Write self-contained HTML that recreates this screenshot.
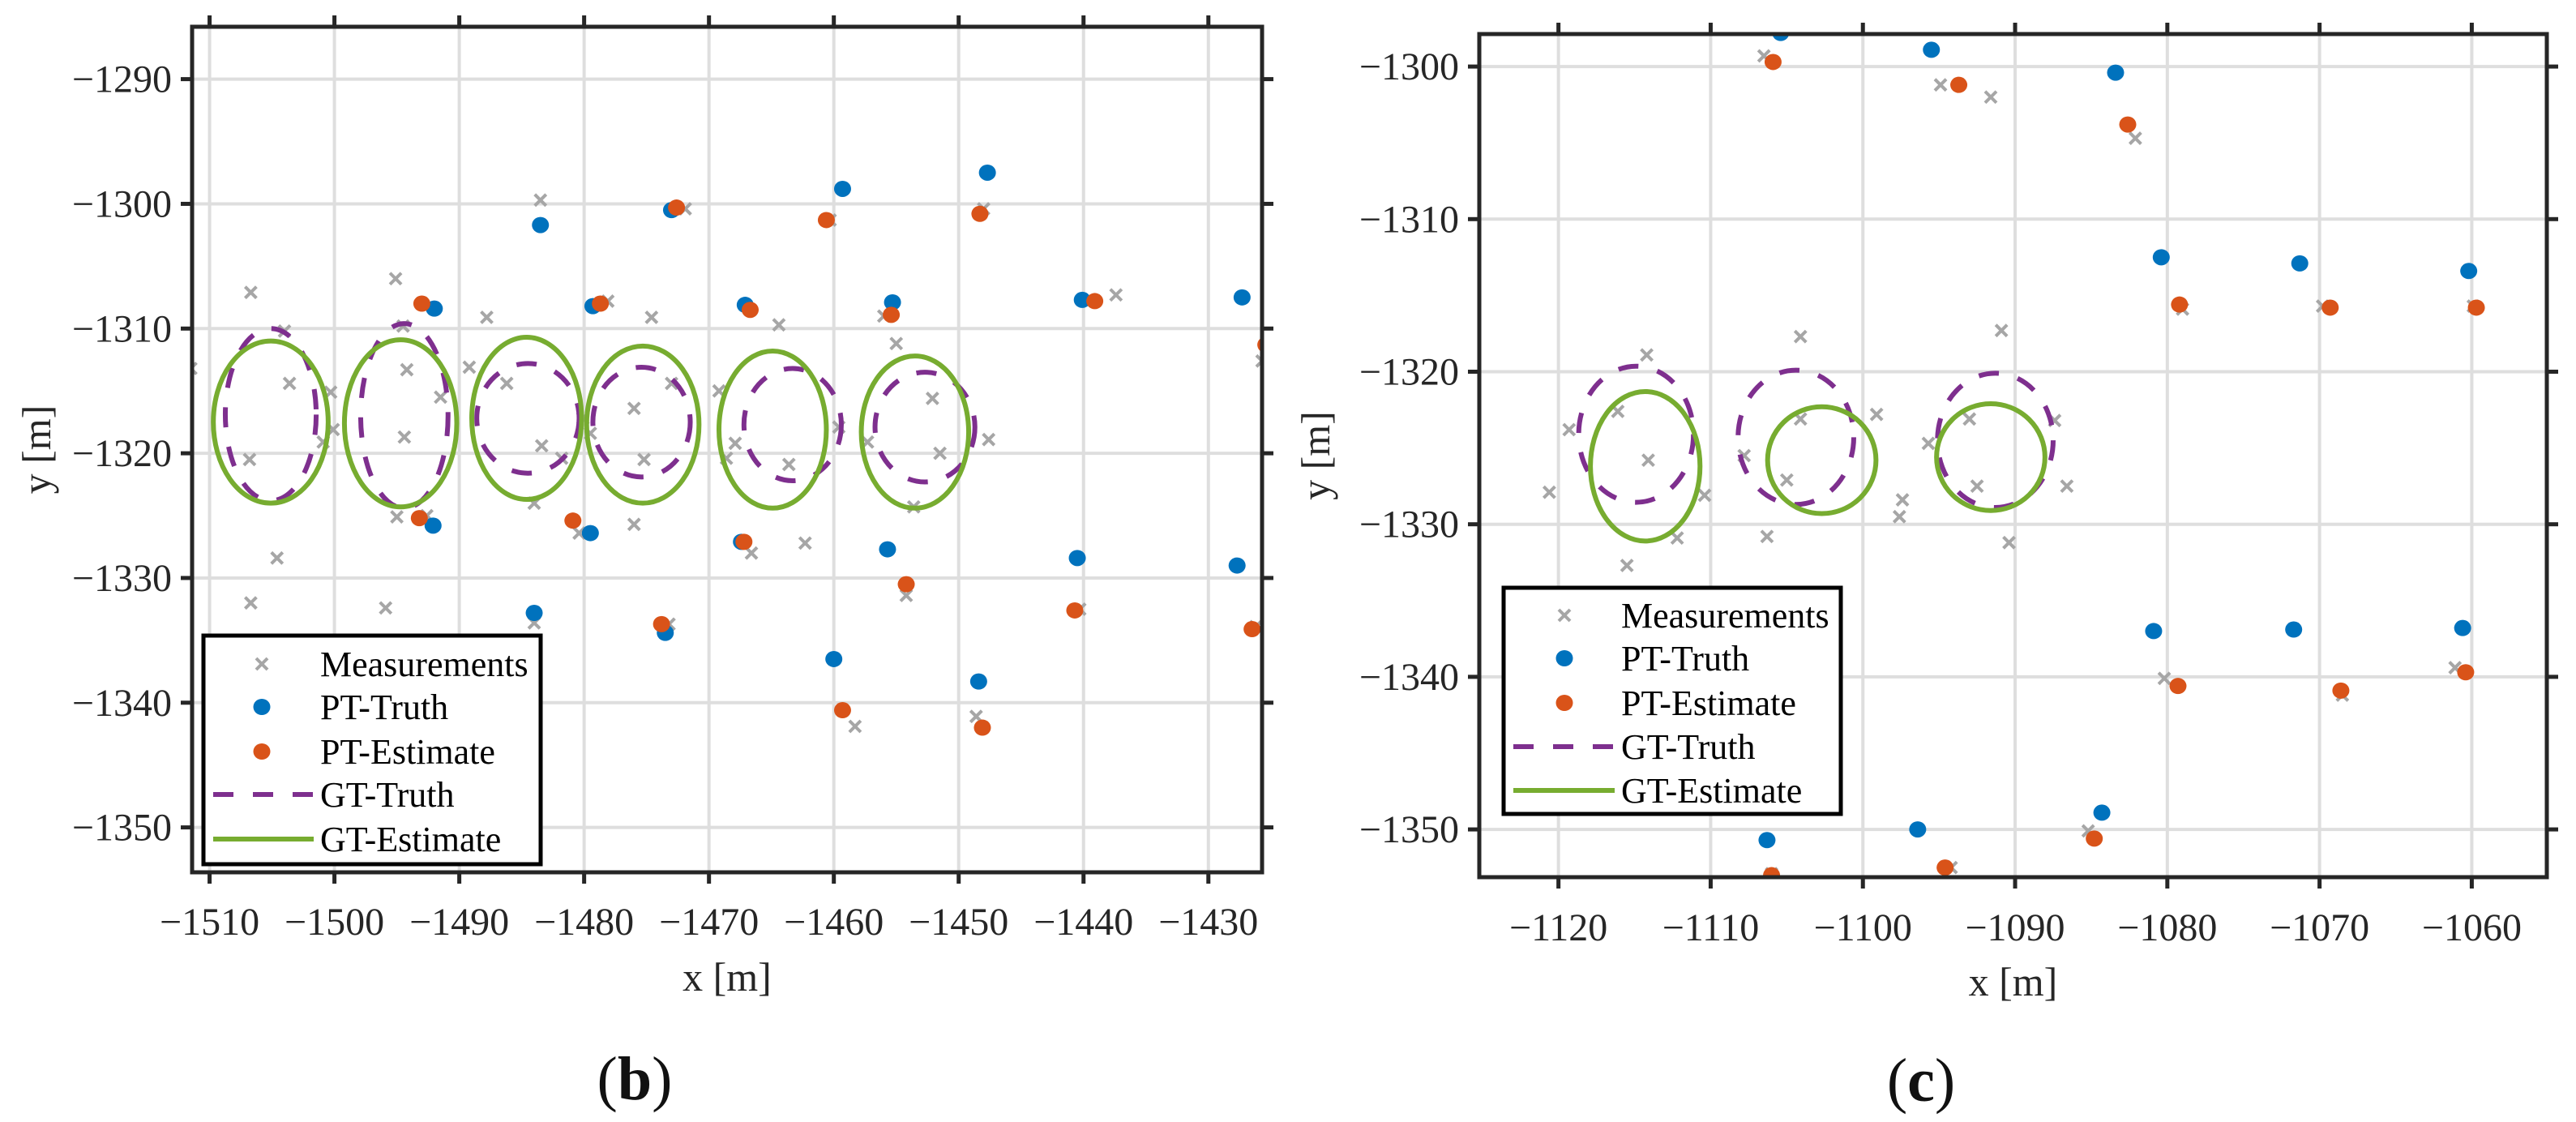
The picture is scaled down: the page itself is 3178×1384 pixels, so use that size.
<!DOCTYPE html>
<html><head><meta charset="utf-8">
<style>
html,body{margin:0;padding:0;background:#fff;}
svg{display:block;font-family:"Liberation Serif",serif;}
</style></head>
<body>
<svg id="fig" width="3178" height="1384" viewBox="0 0 3178 1384" xmlns="http://www.w3.org/2000/svg"></svg>
<script>
// ---------- Panel (b) data ----------
const bXTicks = [-1510,-1500,-1490,-1480,-1470,-1460,-1450,-1440,-1430];
const bYTicks = [-1290,-1300,-1310,-1320,-1330,-1340,-1350];
const bMeasX = [-1511.5,-1506.7,-1504.0,-1503.6,-1500.3,-1500.1,-1500.9,-1506.8,-1504.6,-1506.7,-1495.1,-1494.5,-1494.2,-1494.4,-1491.5,-1495.0,-1492.6,-1495.9,-1487.8,-1489.2,-1486.2,-1483.5,-1483.4,-1481.8,-1484.0,-1484.0,-1478.1,-1480.1,-1479.5,-1480.4,-1474.6,-1476.0,-1475.2,-1473.0,-1476.0,-1473.2,-1471.9,-1469.2,-1467.9,-1468.6,-1464.4,-1463.6,-1462.3,-1466.6,-1459.6,-1460.3,-1457.3,-1458.3,-1455.0,-1456.0,-1452.1,-1451.5,-1453.6,-1454.2,-1448.6,-1447.6,-1448.0,-1437.4,-1440.3,-1425.7,-1426.2];
const bMeasY = [-1313.2,-1307.1,-1310.2,-1314.4,-1315.1,-1318.1,-1319.1,-1320.5,-1328.4,-1332.0,-1306.0,-1309.8,-1313.3,-1318.7,-1315.5,-1325.1,-1325.0,-1332.4,-1309.1,-1313.1,-1314.4,-1299.7,-1319.4,-1320.4,-1324.0,-1333.6,-1307.8,-1317.2,-1318.4,-1326.4,-1309.1,-1316.4,-1320.5,-1314.4,-1325.7,-1333.7,-1300.4,-1315.0,-1319.2,-1320.4,-1309.7,-1320.9,-1327.2,-1328.0,-1317.9,-1301.3,-1319.1,-1341.9,-1311.2,-1309.0,-1315.6,-1320.0,-1324.3,-1331.4,-1341.1,-1318.9,-1300.4,-1307.3,-1332.5,-1312.6,-1333.9];
const bTruthX = [-1483.5,-1473.0,-1459.3,-1447.7,-1492.0,-1479.3,-1467.1,-1455.3,-1440.1,-1427.3,-1492.1,-1479.5,-1467.4,-1455.7,-1440.5,-1427.7,-1484.0,-1473.5,-1460.0,-1448.4];
const bTruthY = [-1301.7,-1300.5,-1298.8,-1297.5,-1308.4,-1308.2,-1308.1,-1307.9,-1307.7,-1307.5,-1325.8,-1326.4,-1327.1,-1327.7,-1328.4,-1329.0,-1332.8,-1334.4,-1336.5,-1338.3];
const bEstX = [-1493.0,-1478.7,-1466.7,-1455.4,-1439.1,-1425.4,-1472.6,-1460.6,-1448.3,-1493.2,-1480.9,-1467.2,-1454.2,-1440.7,-1426.5,-1473.8,-1459.3,-1448.1];
const bEstY = [-1308.0,-1308.0,-1308.5,-1308.9,-1307.8,-1311.3,-1300.3,-1301.3,-1300.8,-1325.2,-1325.4,-1327.1,-1330.5,-1332.6,-1334.1,-1333.7,-1340.6,-1342.0];
const bGtTruthCx = [-1505.1,-1494.4,-1484.5,-1475.4,-1463.3,-1452.7];
const bGtTruthCy = [-1316.9,-1317.0,-1317.2,-1317.5,-1317.7,-1317.9];
const bGtTruthRx = [3.64,3.5,4.1,3.9,3.9,4.0];
const bGtTruthRy = [6.9,7.4,4.4,4.4,4.5,4.4];
const bGtEstCx = [-1505.1,-1494.7,-1484.6,-1475.3,-1464.9,-1453.5];
const bGtEstCy = [-1317.5,-1317.6,-1317.2,-1317.7,-1318.1,-1318.3];
const bGtEstRx = [4.6,4.5,4.4,4.5,4.3,4.3];
const bGtEstRy = [6.5,6.7,6.5,6.3,6.3,6.1];

// ---------- Panel (c) data ----------
const cXTicks = [-1120,-1110,-1100,-1090,-1080,-1070,-1060];
const cYTicks = [-1300,-1310,-1320,-1330,-1340,-1350];
const cMeasX = [-1106.5,-1094.9,-1091.6,-1082.1,-1079.0,-1069.8,-1059.9,-1090.9,-1104.1,-1114.2,-1116.1,-1119.3,-1114.1,-1120.6,-1110.4,-1112.2,-1115.5,-1107.8,-1104.1,-1105.0,-1106.3,-1099.1,-1095.7,-1097.4,-1097.6,-1093.0,-1092.5,-1090.4,-1087.4,-1086.6,-1080.2,-1085.2,-1068.5,-1061.1,-1094.2,-1106.0];
const cMeasY = [-1299.3,-1301.2,-1302.0,-1304.7,-1315.9,-1315.7,-1315.7,-1317.3,-1317.7,-1318.9,-1322.6,-1323.8,-1325.8,-1327.9,-1328.1,-1330.9,-1332.7,-1325.5,-1323.1,-1327.1,-1330.8,-1322.8,-1324.7,-1328.4,-1329.5,-1323.1,-1327.5,-1331.2,-1323.2,-1327.5,-1340.1,-1350.1,-1341.2,-1339.4,-1352.5,-1352.9];
const cTruthX = [-1105.4,-1095.5,-1083.4,-1080.4,-1071.3,-1060.2,-1080.9,-1071.7,-1060.6,-1106.3,-1096.4,-1084.3];
const cTruthY = [-1297.8,-1298.9,-1300.4,-1312.5,-1312.9,-1313.4,-1337.0,-1336.9,-1336.8,-1350.7,-1350.0,-1348.9];
const cEstX = [-1105.9,-1093.7,-1082.6,-1079.2,-1069.3,-1059.7,-1079.3,-1068.6,-1060.4,-1106.0,-1094.6,-1084.8];
const cEstY = [-1299.7,-1301.2,-1303.8,-1315.6,-1315.8,-1315.8,-1340.6,-1340.9,-1339.7,-1353.0,-1352.5,-1350.6];
const cGtTruthCx = [-1114.9,-1104.4,-1091.3];
const cGtTruthCy = [-1324.1,-1324.3,-1324.5];
const cGtTruthRx = [3.77,3.8,3.8];
const cGtTruthRy = [4.46,4.4,4.4];
const cGtEstCx = [-1114.3,-1102.7,-1091.6];
const cGtEstCy = [-1326.2,-1325.8,-1325.6];
const cGtEstRx = [3.6,3.56,3.56];
const cGtEstRy = [4.9,3.5,3.5];
const legendLabels = ["Measurements","PT-Truth","PT-Estimate","GT-Truth","GT-Estimate"];

const NS = "http://www.w3.org/2000/svg";
const svg = document.getElementById("fig");
function mk(tag, attrs, parent){
  const e = document.createElementNS(NS, tag);
  for (const k in attrs) e.setAttribute(k, attrs[k]);
  (parent||svg).appendChild(e);
  return e;
}
const C = {blue:"#0072BD", orange:"#D95319", gray:"#a6a6a6", purple:"#7E2F8E", green:"#77AC30", axis:"#262626", grid:"#dedede"};

function panel(p){
  const g = mk("g", {});
  
  
  const sx = v => p.x0 + (v - p.xmin) / (p.xmax - p.xmin) * (p.x1 - p.x0);
  const sy = v => p.y1 - (v - p.ymin) / (p.ymax - p.ymin) * (p.y1 - p.y0);
  const kx = (p.x1 - p.x0) / (p.xmax - p.xmin), ky = (p.y1 - p.y0) / (p.ymax - p.ymin);
  const clipId = p.name + "-clip";
  const defs = mk("defs", {}, g);
  const cp = mk("clipPath", {id: clipId}, defs);
  mk("rect", {x:p.x0, y:p.y0, width:p.x1-p.x0, height:p.y1-p.y0}, cp);
  const grid = mk("g", {stroke:C.grid, "stroke-width":4}, g);
  
  
  p.xt.forEach(t => mk("line", {x1:sx(t), x2:sx(t), y1:p.y0, y2:p.y1}, grid));
  p.yt.forEach(t => mk("line", {y1:sy(t), y2:sy(t), x1:p.x0, x2:p.x1}, grid));
  const dg = mk("g", {"clip-path":"url(#"+clipId+")"}, g);
  const meas = mk("g", {stroke:C.gray, "stroke-width":4}, dg);
  
  
  p.mx.forEach((v,i) => {
    const X = sx(v), Y = sy(p.my[i]), s = 7;
    const pth = mk("path", {d:`M${X-s} ${Y-s}L${X+s} ${Y+s}M${X-s} ${Y+s}L${X+s} ${Y-s}`}, meas);
    
    
  });
  const tr = mk("g", {fill:C.blue}, dg);
  
  
  p.tx.forEach((v,i) => {
    const c = mk("ellipse", {cx:sx(v), cy:sy(p.ty[i]), rx:10.5, ry:10}, tr);
    
    
  });
  const es = mk("g", {fill:C.orange}, dg);
  
  
  p.ex.forEach((v,i) => {
    const c = mk("ellipse", {cx:sx(v), cy:sy(p.ey[i]), rx:10.5, ry:10}, es);
    
    
  });
  const gt = mk("g", {fill:"none", stroke:C.purple, "stroke-width":6, "stroke-dasharray":"25 24"}, dg);
  
  
  p.gtcx.forEach((v,i) => {
    const e = mk("ellipse", {cx:sx(v), cy:sy(p.gtcy[i]), rx:p.gtrx[i]*kx, ry:p.gtry[i]*ky}, gt);
    
    
  });
  const ge = mk("g", {fill:"none", stroke:C.green, "stroke-width":6}, dg);
  
  
  p.gecx.forEach((v,i) => {
    const e = mk("ellipse", {cx:sx(v), cy:sy(p.gecy[i]), rx:p.gerx[i]*kx, ry:p.gery[i]*ky}, ge);
    
    
  });
  const ax = mk("g", {stroke:C.axis, "stroke-width":5, fill:"none"}, g);
  
  
  mk("rect", {x:p.x0, y:p.y0, width:p.x1-p.x0, height:p.y1-p.y0}, ax);
  const T = 14;
  p.xt.forEach(t => {
    mk("line", {x1:sx(t), x2:sx(t), y1:p.y1, y2:p.y1+T}, ax);
    mk("line", {x1:sx(t), x2:sx(t), y1:p.y0, y2:p.y0-T}, ax);
    const tx = mk("text", {x:sx(t), y:p.xlabY, "text-anchor":"middle", "font-size":48, fill:C.axis, stroke:"none"}, g);
    tx.textContent = "\u2212" + Math.abs(t);
    
    
  });
  p.yt.forEach(t => {
    mk("line", {y1:sy(t), y2:sy(t), x1:p.x0, x2:p.x0-T}, ax);
    mk("line", {y1:sy(t), y2:sy(t), x1:p.x1, x2:p.x1+T}, ax);
    const tx = mk("text", {x:p.ylabX, y:sy(t)+16, "text-anchor":"end", "font-size":48, fill:C.axis}, g);
    tx.textContent = "\u2212" + Math.abs(t);
    
    
  });
  const xl = mk("text", {x:(p.x0+p.x1)/2, y:p.xTitleY, "text-anchor":"middle", "font-size":50, fill:C.axis}, g);
  xl.textContent = "x [m]";
  
  
  const yl = mk("text", {x:0, y:0, "text-anchor":"middle", "font-size":50, fill:C.axis, transform:`translate(${p.yTitleX},${(p.y0+p.y1)/2}) rotate(-90)`}, g);
  yl.textContent = "y [m]";
  
  
  const cap = mk("text", {x:p.capX, y:p.capY, "text-anchor":"middle", "font-size":76, fill:"#111"}, g);
  cap.textContent = "(" ;
  const b = mk("tspan", {"font-weight":"bold"}, cap); b.textContent = p.cap;
  const b2 = mk("tspan", {}, cap); b2.textContent = ")";
  
  
  const L = p.leg;
  const lg = mk("g", {}, g);
  
  
  mk("rect", {x:L.x0, y:L.y0, width:L.x1-L.x0, height:L.y1-L.y0, fill:"#fff", stroke:"#000", "stroke-width":5}, lg);
  legendLabels.forEach((lab,i) => {
    const ry = L.rows[i];
    const eg = mk("g", {}, lg);
    
    
    if (i === 0) mk("path", {d:`M${L.mx-7} ${ry-7}L${L.mx+7} ${ry+7}M${L.mx-7} ${ry+7}L${L.mx+7} ${ry-7}`, stroke:C.gray, "stroke-width":4}, eg);
    if (i === 1) mk("ellipse", {cx:L.mx, cy:ry, rx:10.5, ry:10, fill:C.blue}, eg);
    if (i === 2) mk("ellipse", {cx:L.mx, cy:ry, rx:10.5, ry:10, fill:C.orange}, eg);
    if (i === 3) mk("line", {x1:L.lx0, x2:L.lx1, y1:ry, y2:ry, stroke:C.purple, "stroke-width":6, "stroke-dasharray":"25 24"}, eg);
    if (i === 4) mk("line", {x1:L.lx0, x2:L.lx1, y1:ry, y2:ry, stroke:C.green, "stroke-width":6}, eg);
    const t = mk("text", {x:L.tx, y:ry+15, "font-size":44, fill:"#000"}, eg);
    t.textContent = lab;
  });
}

panel({name:"panel-b", x0:237, x1:1557, y0:33, y1:1076,
  xmin:-1511.4, xmax:-1425.7, ymin:-1353.6, ymax:-1285.8,
  xt:bXTicks, yt:bYTicks, mx:bMeasX, my:bMeasY, tx:bTruthX, ty:bTruthY, ex:bEstX, ey:bEstY,
  gtcx:bGtTruthCx, gtcy:bGtTruthCy, gtrx:bGtTruthRx, gtry:bGtTruthRy,
  gecx:bGtEstCx, gecy:bGtEstCy, gerx:bGtEstRx, gery:bGtEstRy,
  xlabY:1153, ylabX:212, xTitleY:1222, yTitleX:62, cap:"b", capX:783, capY:1356,
  leg:{x0:251, x1:667, y0:784, y1:1066, rows:[819,872,927,980,1035], mx:323, tx:395, lx0:263, lx1:387}});

panel({name:"panel-c", x0:1825, x1:3142, y0:42, y1:1082,
  xmin:-1125.2, xmax:-1055.07, ymin:-1353.13, ymax:-1297.87,
  xt:cXTicks, yt:cYTicks, mx:cMeasX, my:cMeasY, tx:cTruthX, ty:cTruthY, ex:cEstX, ey:cEstY,
  gtcx:cGtTruthCx, gtcy:cGtTruthCy, gtrx:cGtTruthRx, gtry:cGtTruthRy,
  gecx:cGtEstCx, gecy:cGtEstCy, gerx:cGtEstRx, gery:cGtEstRy,
  xlabY:1160, ylabX:1800, xTitleY:1228, yTitleX:1640, cap:"c", capX:2370, capY:1358,
  leg:{x0:1855, x1:2271, y0:725, y1:1004, rows:[759,812,867,921,975], mx:1930, tx:2000, lx0:1867, lx1:1992}});
</script>
</body></html>
